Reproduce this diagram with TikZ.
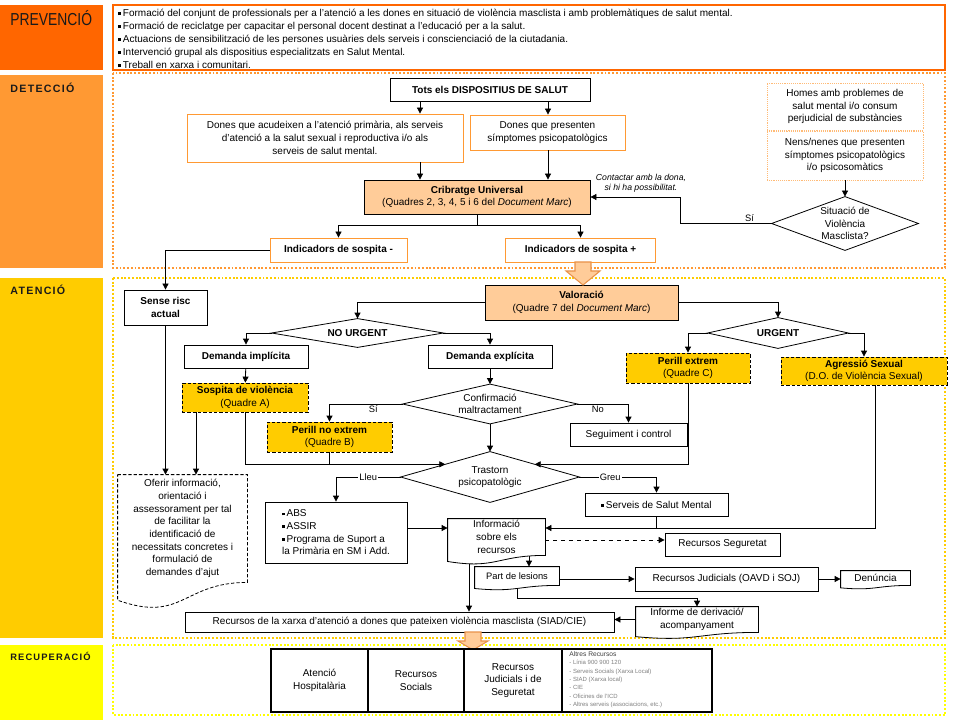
\documentclass[tikz,border=0pt]{standalone}
\usepackage{fontspec}
\setmainfont{Liberation Sans}
\newfontfamily\narrowfont[FakeStretch=0.8]{Liberation Sans}
\newfontfamily\bandfont[LetterSpace=12]{Liberation Sans}
\usetikzlibrary{calc,arrows.meta}

\definecolor{prevcol}{HTML}{FF6600}
\definecolor{detcol}{HTML}{FF9933}
\definecolor{atencol}{HTML}{FFCC00}
\definecolor{recucol}{HTML}{FFFF00}
\definecolor{peach}{HTML}{FFCC99}
\definecolor{lightor}{HTML}{FFBB77}
\definecolor{labcol}{HTML}{1A1A1A}
\definecolor{fatline}{HTML}{E8924A}

\newcommand*{\bul}{\raisebox{1.1pt}{\rule{2.2pt}{2.2pt}}\hspace{1.2pt}}
\newcommand*{\smallfs}{\fontsize{6.5}{7.5}\selectfont}
\newcommand*{\rhomb}[1]{%
\draw (#1.north) -- (#1.east) -- (#1.south) -- (#1.west) -- cycle;}
\newcommand*{\docpath}[2][]{%
\draw[fill=white, #1] (#2.north west) -- (#2.north east) -- (#2.south east)
  .. controls (#2.south) and ($(#2.south)!-0.381!(#2.north)$)
  .. ($(#2.south west)!-0.165!(#2.north west)$) -- cycle;}

\tikzset{
  sz/.style n args={2}{minimum width=#1*0.75pt, minimum height=#2*0.75pt},
  box/.style={draw, fill=white, align=center, inner sep=1pt},
  obox/.style={box, draw=detcol},
  dbox/.style={box, draw=lightor, dash pattern=on 0.6pt off 0.8pt},
  pbox/.style={box, fill=peach},
  ybox/.style={box, fill=atencol, dash pattern=on 2.5pt off 1.5pt},
  rbox/.style={box, line width=1.1pt},
  doc/.style={align=center, inner sep=0pt},
  dia/.style={align=center, inner sep=0pt},
  lbl/.style={font=\fontsize{7}{8}\selectfont, inner sep=1pt},
  arr/.style={-{Triangle[length=4.5pt,width=4.5pt]}},
  fat/.style={fill=peach, draw=fatline, line width=0.8pt},
  frame/.style={line width=1.4pt, dash pattern=on 1.4pt off 1.4pt},
  bandlbl/.style={anchor=west, text=labcol, inner sep=0pt,
    font=\bandfont\bfseries\fontsize{8}{9}\selectfont},
}

\begin{document}
\fontsize{7.5}{9.5}\selectfont
\begin{tikzpicture}[x=0.75pt, y=-0.75pt, line width=0.6pt]
\useasboundingbox (0,0) rectangle (960,720);

% bands on the left
\fill[prevcol] (0,5) rectangle (103,70);
\fill[detcol] (0,75) rectangle (103,268);
\fill[atencol] (0,278) rectangle (103,638);
\fill[recucol] (0,645) rectangle (103,720);
\node[anchor=west, text=labcol, inner sep=0pt,
  font=\narrowfont\fontsize{13}{13}\selectfont] (lprev) at (10,18) {PREVENCIÓ};
\node[bandlbl] (ldet) at (10,88) {DETECCIÓ};
\node[bandlbl] (laten) at (10,290) {ATENCIÓ};
\node[bandlbl, font=\bandfont\bfseries\fontsize{7}{8}\selectfont] (lrecu) at (10,656) {RECUPERACIÓ};

% frames
\draw[prevcol, line width=1pt] (113,5) rectangle (945,70);
\draw[frame, detcol] (113,73) rectangle (945,268);
\draw[frame, atencol] (113,278) rectangle (945,638);
\draw[frame, recucol] (113,645) rectangle (945,715);

\node[anchor=west, align=left, inner sep=0pt,
  font=\fontsize{7.5}{9.75}\selectfont] (prevtxt) at (118,39) {%
\bul Formació del conjunt de professionals per a l'atenció a les dones en situació de violència masclista i amb problemàtiques de salut mental.\\
\bul Formació de reciclatge per capacitar el personal docent destinat a l'educació per a la salut.\\
\bul Actuacions de sensibilització de les persones usuàries dels serveis i conscienciació de la ciutadania.\\
\bul Intervenció grupal als dispositius especialitzats en Salut Mental.\\
\bul Treball en xarxa i comunitari.};

% deteccio
\node[box, sz={200}{23}, font=\bfseries] (tots) at (490,89.5) {Tots els DISPOSITIUS DE SALUT};
\node[obox, sz={276}{48}] (donesap) at (325,138) {Dones que acudeixen a l'atenció primària, als serveis\\d'atenció a la salut sexual i reproductiva i/o als\\serveis de salut mental.};
\node[obox, sz={155}{35}] (donessp) at (547.5,132.5) {Dones que presenten\\símptomes psicopatològics};
\node[pbox, sz={226}{34}] (cribratge) at (477,197) {\textbf{Cribratge Universal}\\(Quadres 2, 3, 4, 5 i 6 del \textit{Document Marc})};
\node[obox, sz={137}{24}, font=\bfseries] (indmin) at (338.5,250) {Indicadors de sospita -};
\node[obox, sz={150}{24}, font=\bfseries] (indmes) at (580.5,250) {Indicadors de sospita +};
\node[dbox, sz={156}{47}] (homes) at (845,106.5) {Homes amb problemes de\\salut mental i/o consum\\perjudicial de substàncies};
\node[dbox, sz={156}{49}] (nens) at (845,155.5) {Nens/nenes que presenten\\símptomes psicopatològics\\i/o psicosomàtics};
\node[dia, sz={146}{53}] (situacio) at (845,223.5) {Situació de\\Violència\\Masclista?};
\rhomb{situacio}
\node[font=\itshape\smallfs, align=center, inner sep=0pt] (contacte) at (641,183) {Contactar amb la dona,\\si hi ha possibilitat.};

\draw[arr] (tots.south -| 420,0) -- (donesap.north -| 420,0);
\draw[arr] (tots.south -| 548,0) -- (donessp.north -| 548,0);
\draw[arr] (donesap.south -| 420,0) -- (cribratge.north -| 420,0);
\draw[arr] (donessp.south -| 548,0) -- (cribratge.north -| 548,0);
\draw (cribratge.south) -- ++(0,11) coordinate (crib);
\draw[arr] (crib) -| (indmin.north);
\draw[arr] (crib) -| (indmes.north);
\draw[arr] (nens.south) -- (situacio.north);
\draw[arr] (situacio.west) -- node[above, pos=0.24, lbl] {Sí} (situacio.west -| 680,0) |- (cribratge.east);

% atencio
\node[box, sz={83}{35}, font=\bfseries] (sense) at (165.5,307.5) {Sense risc\\actual};
\draw[arr] (indmin.west) -| (sense.north);
\node[pbox, sz={193}{35}] (valoracio) at (581.5,302.5) {\textbf{Valoració}\\(Quadre 7 del \textit{Document Marc})};
\draw[fat] (575,262) -- (591,262) -- (591,271) -- (600,271) -- (583,285) -- (566,271) -- (575,271) -- cycle;
\node[dia, sz={171}{28}, font=\bfseries] (nourg) at (357.5,333) {NO URGENT};
\rhomb{nourg}
\node[dia, sz={140}{30}, font=\bfseries] (urg) at (778,333) {URGENT};
\rhomb{urg}
\node[box, sz={124}{23}, font=\bfseries] (dimpl) at (246,356.5) {Demanda implícita};
\node[box, sz={124}{23}, font=\bfseries] (dexpl) at (490,356.5) {Demanda explícita};
\node[ybox, sz={126}{29}] (sospita) at (245,397.5) {\textbf{Sospita de violència}\\(Quadre A)};
\node[dia, sz={174}{39}] (confirm) at (490,404) {Confirmació\\maltractament};
\rhomb{confirm}
\node[ybox, sz={125}{30}] (pnoext) at (329.5,437) {\textbf{Perill no extrem}\\(Quadre B)};
\node[box, sz={117}{23}] (seguiment) at (628.5,434.5) {Seguiment i control};
\node[ybox, sz={124}{30}] (pext) at (688,368) {\textbf{Perill extrem}\\(Quadre C)};
\node[ybox, sz={166}{28}] (agressio) at (864,371) {\textbf{Agressió Sexual}\\(D.O. de Violència Sexual)};
\node[dia, sz={178}{50}] (trastorn) at (490,477) {Trastorn\\psicopatològic};
\rhomb{trastorn}
\node[box, sz={142}{61}, align=left] (abs) at (336,532.5) {\bul ABS\\\bul ASSIR\\\bul Programa de Suport a\\la Primària en SM i Add.};
\node[box, sz={143}{23}] (salutm) at (656.5,504.5) {\bul Serveis de Salut Mental};
\node[doc, sz={97}{36}] (info) at (496.5,537) {};
\node[box, sz={115}{23}] (segur) at (722.5,544.5) {Recursos Seguretat};
\node[doc, sz={84}{18}] (lesions) at (517,576) {};
\node[box, sz={183}{24}] (judicials) at (726.5,579) {Recursos Judicials (OAVD i SOJ)};
\node[doc, sz={69}{14}] (denuncia) at (875.5,578) {};
\node[doc, sz={122}{25}] (informe) at (697,619.5) {};
\node[box, sz={429}{20}] (xarxa) at (399.5,622) {Recursos de la xarxa d'atenció a dones que pateixen violència masclista (SIAD/CIE)};
\node[doc, sz={129}{107}] (oferir) at (182.5,528.5) {};

\coordinate (trnw) at ($(trastorn.north)!0.5!(trastorn.west)$);
\coordinate (trne) at ($(trastorn.north)!0.5!(trastorn.east)$);
\draw[arr] (valoracio.west) -| (nourg.north);
\draw[arr] (valoracio.east) -| (urg.north);
\draw[arr] (nourg.west) -| (dimpl.north);
\draw[arr] (nourg.east) -| (dexpl.north);
\draw[arr] (urg.west) -| (pext.north);
\draw[arr] (urg.east) -| (agressio.north);
\draw[arr] (dimpl) -- (sospita);
\draw[arr] (sense) -- (sense.south |- oferir.north);
\draw[arr] (sospita.south -| 196,0) -- (oferir.north -| 196,0);
\draw[arr] (sospita.south) |- (trnw);
\draw (pnoext.south) -- (pnoext.south |- trnw);
\draw[arr] (pext.south) |- (trne);
\draw[arr] (dexpl) -- (confirm);
\draw[arr] (confirm.west) -| node[pos=0.2, below, lbl] {Sí} (pnoext.north);
\draw[arr] (confirm.east) -| node[pos=0.2, below, lbl] {No} (seguiment.north);
\draw[arr] (confirm) -- (trastorn);
\draw[arr] (trastorn.west) -| node[pos=0.25, fill=white, lbl] {Lleu} (abs.north);
\draw[arr] (trastorn.east) -| node[pos=0.2, fill=white, lbl] {Greu} (salutm.north);
\draw[arr] (abs.east |- 0,528) -- (info.west |- 0,528);
\draw (agressio.south -| 875,0) |- (salutm.south |- 0,528);
\draw[arr] (salutm.south) |- (info.east |- 0,528);
\draw[arr, dashed] (info.east |- 0,540) -- (segur.west |- 0,540);
\draw[arr] (info.south -| 529,0) -- (lesions.north -| 529,0);
\draw[arr] (info.south -| 469,0) -- (xarxa.north -| 469,0);
\draw[arr] (lesions.east |- judicials.west) -- (judicials.west);
\draw[arr] (judicials.east) -- (denuncia.west |- judicials.east);
\draw[arr] (lesions.south) -- ++(0,13) -| (informe.north);
\draw[arr] (informe.west) -- (xarxa.east |- informe.west);

\docpath{info}
\docpath{lesions}
\docpath{denuncia}
\docpath{informe}
\docpath[dash pattern=on 2.5pt off 1.5pt]{oferir}
\node[doc] (infotxt) at (info) {Informació\\sobre els\\recursos};
\node[doc, font=\fontsize{7}{8}\selectfont] (lesionstxt) at (lesions) {Part de lesions};
\node[doc] (denunciatxt) at (denuncia) {Denúncia};
\node[doc] (informetxt) at (informe) {Informe de derivació/\\acompanyament};
\node[doc] (oferirtxt) at (oferir) {Oferir informació,\\orientació i\\assessorament per tal\\de facilitar la\\identificació de\\necessitats concretes i\\formulació de\\demandes d'ajut};

% recuperacio
\draw[fat] (465,632) -- (481,632) -- (481,641) -- (488,641) -- (473,650) -- (458,641) -- (465,641) -- cycle;
\node[rbox, sz={97}{63}] (hosp) at (319.5,680.5) {Atenció\\Hospitalària};
\node[rbox, sz={96}{63}] (socials) at (416,680.5) {Recursos\\Socials};
\node[rbox, sz={98}{63}] (rjud) at (513,680.5) {Recursos\\Judicials i de\\Seguretat};
\node[rbox, sz={150}{63}] (altres) at (637,680.5) {};
\node[anchor=north west, align=left, inner sep=0pt, text=gray,
  font=\fontsize{4.5}{6.3}\selectfont] (altrestxt) at (569,651) {%
\textcolor{darkgray}{\fontsize{5}{6.3}\selectfont Altres Recursos}\\
- Línia 900 900 120\\
- Serveis Socials (Xarxa Local)\\
- SIAD (Xarxa local)\\
- CIE\\
- Oficines de l'ICD\\
- Altres serveis (associacions, etc.)};
\end{tikzpicture}
\end{document}
